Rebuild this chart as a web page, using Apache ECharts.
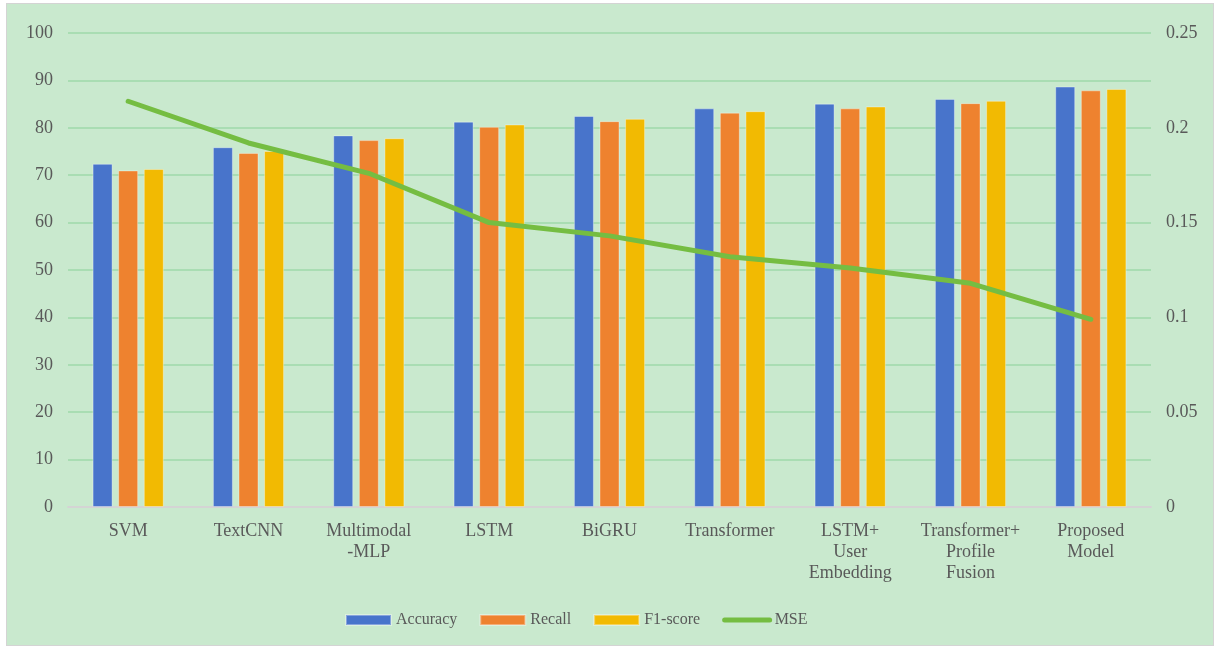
<!DOCTYPE html>
<html>
<head>
<meta charset="utf-8">
<script src="https://cdn.jsdelivr.net/npm/echarts@6/dist/echarts.min.js"></script>
<style>
  html, body { margin: 0; padding: 0; background: #ffffff; }
  #frame { position: absolute; left: 6px; top: 3px; width: 1206px; height: 641px;
           background: #C9E9CE; border: 1px solid #d4d4d4; }
  #chart { position: absolute; left: 0; top: 0; width: 1217px; height: 649px; }
</style>
</head>
<body>
<div id="frame"></div>
<div id="chart"></div>
<script>
// Model names along the category axis
const categories = ['SVM', 'TextCNN', 'Multimodal\n-MLP', 'LSTM', 'BiGRU', 'Transformer',
  'LSTM+\nUser\nEmbedding', 'Transformer+\nProfile\nFusion', 'Proposed\nModel'];

// Classification metrics (%)
const accuracy = [72.4, 75.9, 78.4, 81.3, 82.5, 84.1, 85.1, 86.1, 88.7];
const recall   = [71.0, 74.7, 77.4, 80.2, 81.4, 83.2, 84.1, 85.2, 87.9];
const f1score  = [71.3, 75.1, 77.8, 80.7, 81.9, 83.5, 84.5, 85.7, 88.2];

// Regression error on the secondary axis
const mse = [0.214, 0.192, 0.176, 0.150, 0.143, 0.132, 0.126, 0.118, 0.099];

const textColor = '#595959';
const fontFamily = '"Liberation Serif", "Times New Roman", serif';
const lineGreen = '#75BD42';

const chart = echarts.init(document.getElementById('chart'), null, { renderer: 'canvas' });

const barStyle = (color) => ({
  color: color,
  borderColor: 'rgba(255,255,255,0.35)',
  borderWidth: 1
});

chart.setOption({
  backgroundColor: 'transparent',
  animation: false,
  textStyle: { fontFamily: fontFamily, color: textColor },
  grid: { left: 68, right: 66, top: 33, bottom: 142, containLabel: false },
  legend: {
    left: 340,
    top: 607,
    itemWidth: 45,
    itemHeight: 10,
    itemGap: 22,
    textStyle: { fontFamily: fontFamily, fontSize: 16, color: textColor },
    data: [
      { name: 'Accuracy', icon: 'rect' },
      { name: 'Recall', icon: 'rect' },
      { name: 'F1-score', icon: 'rect' },
      { name: 'MSE', itemStyle: { color: 'rgba(0,0,0,0)', borderWidth: 0 },
        lineStyle: { color: lineGreen, width: 5, cap: 'round' } }
    ]
  },
  xAxis: {
    type: 'category',
    data: categories,
    axisTick: { show: false },
    axisLine: { show: true, lineStyle: { color: '#d4d4d4', width: 2 } },
    axisLabel: {
      interval: 0,
      margin: 14,
      fontFamily: fontFamily,
      fontSize: 18,
      color: textColor,
      lineHeight: 21
    }
  },
  yAxis: [
    {
      type: 'value',
      min: 0, max: 100, interval: 10,
      axisLine: { show: false },
      axisTick: { show: false },
      splitLine: { lineStyle: { color: '#A9DDB3', width: 2 } },
      axisLabel: { margin: 15, fontFamily: fontFamily, fontSize: 18, color: textColor }
    },
    {
      type: 'value',
      min: 0, max: 0.25, interval: 0.05,
      axisLine: { show: false },
      axisTick: { show: false },
      splitLine: { show: false },
      axisLabel: { margin: 15, fontFamily: fontFamily, fontSize: 18, color: textColor }
    }
  ],
  series: [
    { name: 'Accuracy', type: 'bar', data: accuracy, barWidth: 20, barGap: '28%',
      itemStyle: barStyle('#4874CB') },
    { name: 'Recall', type: 'bar', data: recall, barWidth: 20, barGap: '28%',
      itemStyle: barStyle('#EE822F') },
    { name: 'F1-score', type: 'bar', data: f1score, barWidth: 20, barGap: '28%',
      itemStyle: barStyle('#F2BA02') },
    { name: 'MSE', type: 'line', yAxisIndex: 1, data: mse,
      symbol: 'none', showSymbol: false,
      lineStyle: { color: lineGreen, width: 5, cap: 'round', join: 'round' },
      itemStyle: { color: lineGreen } }
  ]
});
</script>
</body>
</html>
